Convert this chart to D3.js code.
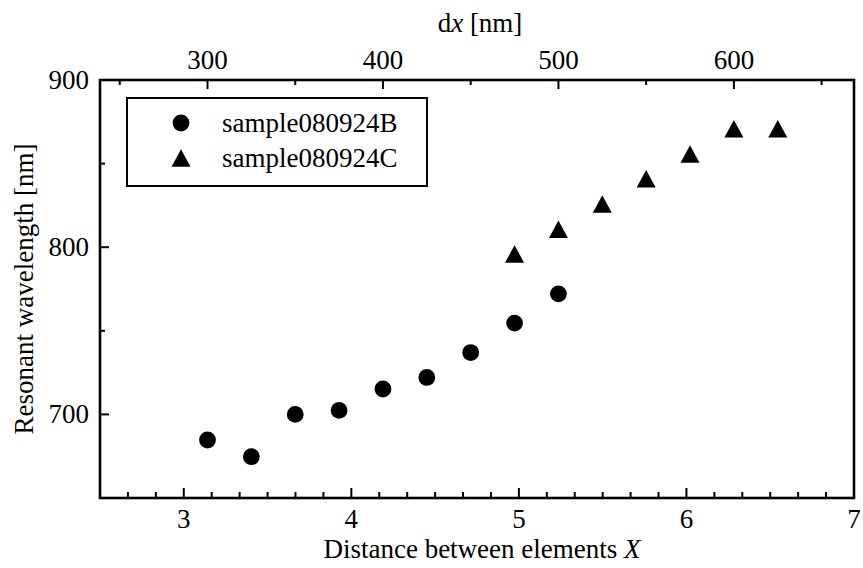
<!DOCTYPE html>
<html>
<head>
<meta charset="utf-8">
<script src="https://cdn.jsdelivr.net/npm/d3@7"></script>
<style>
  html, body { margin: 0; padding: 0; background: #fff; }
  svg { display: block; }
  text { font-family: "Liberation Serif", "Times New Roman", serif; fill: #000; }
</style>
</head>
<body>
<svg id="chart" width="863" height="568"></svg>
<script>
// Element spacing dx [nm] of each measured structure
const dxB = [300, 325, 350, 375, 400, 425, 450, 475, 500];
const dxC = [475, 500, 525, 550, 575, 600, 625];
// Resonant wavelength [nm]
const lambdaB = [684.7, 674.7, 700.0, 702.4, 715.2, 722.1, 737.0, 754.6, 772.1];
const lambdaC = [796.0, 810.7, 825.9, 841.0, 855.8, 870.9, 870.9];

const seriesNames = ["sample080924B", "sample080924C"];
const bottomTicks = [3, 4, 5, 6, 7];
const topTicks = [300, 400, 500, 600];
const leftTicks = [700, 800, 900];

const W = 863, H = 568;
const m = { left: 100, right: 9, top: 80, bottom: 70 };
const x0 = m.left, x1 = W - m.right, y0 = m.top, y1 = H - m.bottom;

// Dimensionless distance X relates to dx by X = pi * dx / 300
const xScale = d3.scaleLinear().domain([2.5, 7]).range([x0, x1]);
const dxScale = d3.scaleLinear()
  .domain([2.5 * 300 / Math.PI, 7 * 300 / Math.PI]).range([x0, x1]);
const yScale = d3.scaleLinear().domain([650, 900]).range([y1, y0]);

const svg = d3.select("#chart");
const FS = 27;

// bottom axis: majors every 1, five minors between
const bottomMinor = d3.range(0, 28).map(i => 2.5 + i / 6).filter(v => v < 7.001);
const gB = svg.append("g");
gB.selectAll("line").data(bottomMinor).join("line")
  .attr("x1", d => xScale(d)).attr("x2", d => xScale(d))
  .attr("y1", y1)
  .attr("y2", d => bottomTicks.some(t => Math.abs(t - d) < 1e-6) ? y1 - 10 : y1 - 6)
  .attr("stroke", "#000").attr("stroke-width", 2);
gB.selectAll("text").data(bottomTicks).join("text")
  .attr("x", d => xScale(d)).attr("y", y1 + 30)
  .attr("text-anchor", "middle").attr("font-size", FS).text(d => d);

// top axis: dx in nm, majors every 100, minors at the 50s
const topMinor = d3.range(250, 651, 50);
const gT = svg.append("g");
gT.selectAll("line").data(topMinor).join("line")
  .attr("x1", d => dxScale(d)).attr("x2", d => dxScale(d))
  .attr("y1", y0)
  .attr("y2", d => d % 100 === 0 ? y0 + 9 : y0 + 5)
  .attr("stroke", "#000").attr("stroke-width", 2);
gT.selectAll("text").data(topTicks).join("text")
  .attr("x", d => dxScale(d)).attr("y", y0 - 11)
  .attr("text-anchor", "middle").attr("font-size", FS).text(d => d);

// left axis: majors every 100, one minor between
const leftMinor = d3.range(650, 901, 50);
const gL = svg.append("g");
gL.selectAll("line").data(leftMinor).join("line")
  .attr("y1", d => yScale(d)).attr("y2", d => yScale(d))
  .attr("x1", x0)
  .attr("x2", d => d % 100 === 0 ? x0 + 9 : x0 + 5)
  .attr("stroke", "#000").attr("stroke-width", 2);
gL.selectAll("text").data(leftTicks).join("text")
  .attr("x", x0 - 11).attr("y", d => yScale(d) + 9)
  .attr("text-anchor", "end").attr("font-size", FS).text(d => d);

// frame
svg.append("rect")
  .attr("x", x0).attr("y", y0).attr("width", x1 - x0).attr("height", y1 - y0)
  .attr("fill", "none").attr("stroke", "#000").attr("stroke-width", 2.6);

// axis titles
const tB = svg.append("text").attr("x", (x0 + x1) / 2 + 5).attr("y", y1 + 60)
  .attr("text-anchor", "middle").attr("font-size", FS);
tB.append("tspan").text("Distance between elements ");
tB.append("tspan").attr("font-style", "italic").text("X");

const tT = svg.append("text").attr("x", 480).attr("y", 32)
  .attr("text-anchor", "middle").attr("font-size", FS);
tT.append("tspan").text("d");
tT.append("tspan").attr("font-style", "italic").text("x");
tT.append("tspan").text(" [nm]");

svg.append("text")
  .attr("transform", `translate(33,${(y0 + y1) / 2}) rotate(-90)`)
  .attr("text-anchor", "middle").attr("font-size", FS)
  .text("Resonant wavelength [nm]");

// markers
const circleSym = d3.symbol().type(d3.symbolCircle).size(Math.PI * 8.4 * 8.4);
const triPath = (w, h) => `M0,${-h / 2}L${w / 2},${h / 2}L${-w / 2},${h / 2}Z`;

svg.append("g").selectAll("path").data(dxB.map((d, i) => [d, lambdaB[i]])).join("path")
  .attr("transform", d => `translate(${dxScale(d[0])},${yScale(d[1])})`)
  .attr("d", circleSym()).attr("fill", "#000");

svg.append("g").selectAll("path").data(dxC.map((d, i) => [d, lambdaC[i]])).join("path")
  .attr("transform", d => `translate(${dxScale(d[0])},${yScale(d[1])})`)
  .attr("d", triPath(19, 17.5)).attr("fill", "#000");

// legend
const lg = svg.append("g");
lg.append("rect").attr("x", 127).attr("y", 98).attr("width", 300).attr("height", 88)
  .attr("fill", "#fff").attr("stroke", "#000").attr("stroke-width", 2);
lg.append("path").attr("transform", "translate(181,123)").attr("d", circleSym()).attr("fill", "#000");
lg.append("path").attr("transform", "translate(181,158)").attr("d", triPath(19, 17.5)).attr("fill", "#000");
lg.append("text").attr("x", 222).attr("y", 132).attr("font-size", FS).text(seriesNames[0]);
lg.append("text").attr("x", 222).attr("y", 167).attr("font-size", FS).text(seriesNames[1]);
</script>
</body>
</html>
